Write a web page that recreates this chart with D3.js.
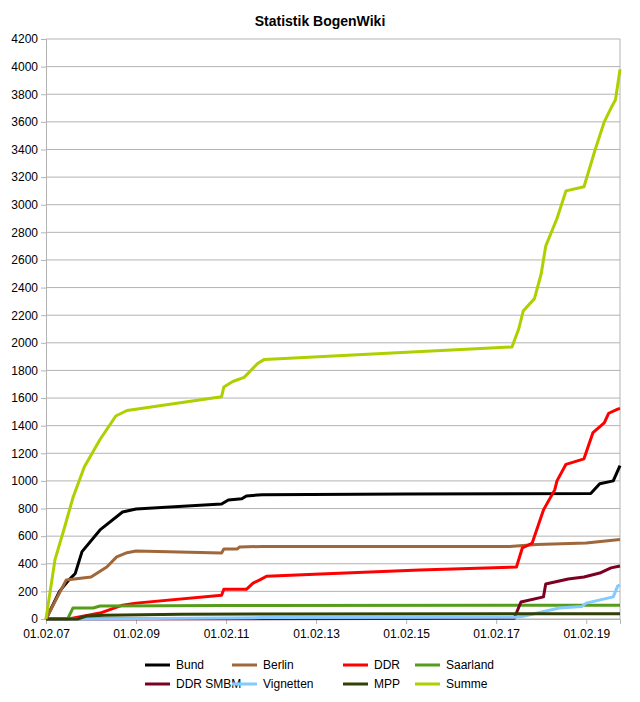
<!DOCTYPE html>
<html><head><meta charset="utf-8">
<script src="https://cdn.jsdelivr.net/npm/d3@7"></script>
<style>body{margin:0;background:#fff}svg{font-family:"Liberation Sans",Arial,sans-serif}</style>
</head><body>
<script>
// t = years since 01.02.07
const seriesNames = ["Bund","Berlin","DDR","Saarland","DDR SMBM","Vignetten","MPP","Summe"];
const colors = ["#000000","#a0673a","#ff0000","#579d1c","#7e0021","#83caff","#314004","#aecf00"];
const xTicks = [0,2,4,6,8,10,12];
const xTickLabels = ["01.02.07","01.02.09","01.02.11","01.02.13","01.02.15","01.02.17","01.02.19"];
const yTicks = d3.range(0, 4201, 200);

const bund = [[0,0],[0.3,200],[0.5,280],[0.65,330],[0.8,488],[1.2,645],[1.7,775],[2.0,797],[3.9,833],[4.05,862],[4.35,870],[4.45,891],[4.8,900],[8,905],[12.1,908],[12.3,980],[12.6,1000],[12.75,1110]];
const berlin = [[0,0],[0.45,283],[1.0,304],[1.35,377],[1.57,450],[1.8,480],[2.0,493],[3.9,478],[3.95,507],[4.25,507],[4.3,522],[4.8,525],[10.3,525],[10.9,540],[12.0,550],[12.75,575]];
const ddr = [[0,0],[0.5,0],[1.2,43],[1.7,100],[2.0,115],[3.9,172],[3.95,215],[4.45,215],[4.6,260],[4.75,283],[4.9,310],[6.1,325],[8.3,355],[10.45,377],[10.58,514],[10.8,550],[11.05,790],[11.3,935],[11.35,1000],[11.55,1120],[11.95,1160],[12.15,1350],[12.4,1420],[12.5,1490],[12.7,1520],[12.75,1525]];
const saarland = [[0,0],[0.48,0],[0.6,80],[1.05,80],[1.2,94],[4,97],[12.75,100]];
const smbm = [[0,0],[10.4,5],[10.55,123],[11.05,160],[11.1,253],[11.6,290],[11.95,304],[12.3,333],[12.55,370],[12.75,384]];
const vignetten = [[0,0],[0.8,0],[4.8,10],[10.4,12],[10.6,20],[11.4,80],[11.9,90],[12.0,115],[12.6,160],[12.7,240],[12.75,245]];
const mpp = [[0,0],[0.7,0],[0.9,22],[1.3,28],[3,35],[12.75,38]];
const summe = [[0,0],[0.2,430],[0.4,650],[0.6,880],[0.85,1100],[1.2,1300],[1.55,1470],[1.8,1510],[3.9,1610],[3.95,1680],[4.15,1720],[4.4,1750],[4.7,1850],[4.85,1880],[10.35,1970],[10.5,2100],[10.6,2230],[10.85,2320],[11.0,2500],[11.1,2700],[11.35,2900],[11.55,3100],[11.95,3130],[12.2,3400],[12.4,3600],[12.55,3700],[12.65,3760],[12.75,3980]];
const data = [bund,berlin,ddr,saarland,smbm,vignetten,mpp,summe];

const W = 640, H = 702, L = 46, R = 620, T = 39, B = 619;
const svg = d3.select("body").append("svg").attr("width", W).attr("height", H);
const x = d3.scaleLinear().domain([0, 12.75]).range([L, R]);
const y = d3.scaleLinear().domain([0, 4200]).range([B, T]);

svg.append("text").attr("x", 320).attr("y", 26).attr("text-anchor", "middle")
  .attr("font-size", 14).attr("font-weight", "bold").text("Statistik BogenWiki");

svg.append("g").selectAll("line").data(yTicks).join("line")
  .attr("x1", L).attr("x2", R).attr("y1", d => y(d)).attr("y2", d => y(d))
  .attr("stroke", "#b3b3b3");
svg.append("line").attr("x1", R).attr("x2", R).attr("y1", T).attr("y2", B).attr("stroke", "#b3b3b3");

svg.append("g").attr("transform", `translate(${L},0)`)
  .call(d3.axisLeft(y).tickValues(yTicks).tickSize(5).tickFormat(d3.format("d")))
  .call(g => g.selectAll("text").attr("font-size", 12).attr("fill", "#000"))
  .call(g => g.selectAll("line,path").attr("stroke", "#b3b3b3"));
svg.append("g").attr("transform", `translate(0,${B})`)
  .call(d3.axisBottom(x).tickValues(xTicks).tickSize(5).tickFormat((d, i) => xTickLabels[i]))
  .call(g => g.selectAll("text").attr("font-size", 12).attr("fill", "#000").attr("dy", "0.9em"))
  .call(g => g.selectAll("line,path").attr("stroke", "#b3b3b3"));

const line = d3.line().x(d => x(d[0])).y(d => y(d[1]));
svg.append("g").selectAll("path").data(data).join("path")
  .attr("d", line).attr("fill", "none").attr("stroke", (d, i) => colors[i])
  .attr("stroke-width", 3).attr("stroke-linejoin", "round");

const legX = [176, 263, 374, 446];
const lg = svg.append("g").selectAll("g").data(seriesNames).join("g")
  .attr("transform", (d, i) => `translate(${legX[i % 4]},${665 + Math.floor(i / 4) * 19})`);
lg.append("line").attr("x1", -31).attr("x2", -6).attr("stroke", (d, i) => colors[i]).attr("stroke-width", 3);
lg.append("text").attr("dy", "0.35em").attr("font-size", 12).text(d => d);
</script>
</body></html>
